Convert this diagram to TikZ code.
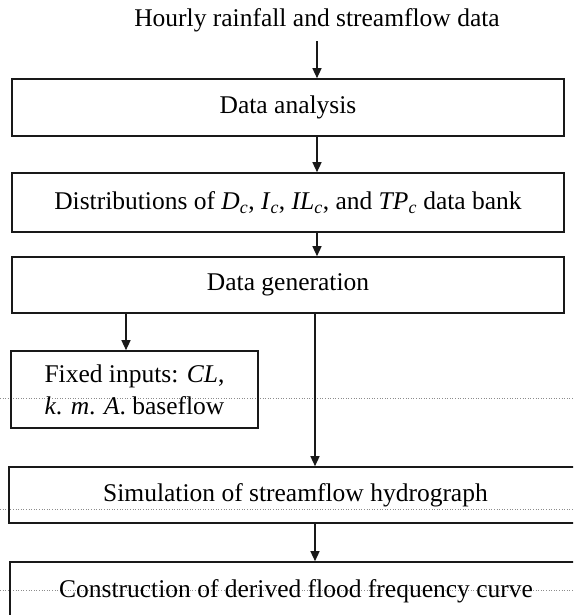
\documentclass[tikz,border=0pt]{standalone}
\usepackage{fontspec}
\setmainfont{Liberation Serif}
\usetikzlibrary{arrows.meta}
\tikzset{
  box/.style={draw=black!90, line width=1.6pt, inner sep=0pt, align=center, font=\fontsize{25.5}{31}\selectfont},
  arr/.style={draw=black!90, line width=1.3pt, -{Triangle[width=9pt,length=10pt]}},
  plain/.style={draw=black!90, line width=1.3pt},
  scanline/.style={draw=black!45, line width=0.6pt, dotted}
}
\newcommand{\ital}[2]{\textit{#1}\textsubscript{\textit{#2}}}
\begin{document}
\begin{tikzpicture}[x=1pt,y=-1pt]
\useasboundingbox (0,0) rectangle (573,615);
\clip (0,0) rectangle (573,615);
% faint scan lines
\draw[scanline] (0,398) -- (573,398);
\draw[scanline] (0,509) -- (573,509);
\draw[scanline] (0,590) -- (573,590);

\coordinate (ax) at (317,0);
\coordinate (bx) at (315,0);
\coordinate (cx) at (126,0);

\node[font=\fontsize{25.5}{31}\selectfont, anchor=base, text depth=0pt, inner xsep=0pt, inner ysep=14pt] (title) at (317,27) {Hourly rainfall and streamflow data};

\node[box, minimum width=552pt, minimum height=57pt] (b1) at (288,107.5) {Data analysis};
\node[box, minimum width=552pt, minimum height=59pt] (b2) at (288,202.5) {Distributions of \ital{D}{c}, \ital{I}{c}, \ital{IL}{c}, and \ital{TP}{c} data bank};
\node[box, minimum width=552pt, minimum height=56pt] (b3) at (288,285) {Data generation};
\node[box, minimum width=247pt, minimum height=77pt, font=\fontsize{25.5}{32}\selectfont] (b4) at (134.5,389.5) {Fixed inputs: \textit{CL},\\ \textit{k}. \textit{m}. \textit{A}. baseflow};
\node[box, minimum width=573pt, minimum height=56pt] (b5) at (295.5,495) {Simulation of streamflow hydrograph};
\node[box, minimum width=572pt, minimum height=58pt] (b6) at (296,591) {Construction of derived flood frequency curve};

\draw[arr] (title.south -| ax) -- (b1.north -| ax);
\draw[arr] (b1.south -| ax) -- (b2.north -| ax);
\draw[arr] (b2.south -| ax) -- (b3.north -| ax);
\draw[arr] (b3.south -| cx) -- (b4.north -| cx);
\draw[arr] (b3.south -| bx) -- (b5.north -| bx);
\draw[arr] (b5.south -| bx) -- (b6.north -| bx);
\end{tikzpicture}
\end{document}
